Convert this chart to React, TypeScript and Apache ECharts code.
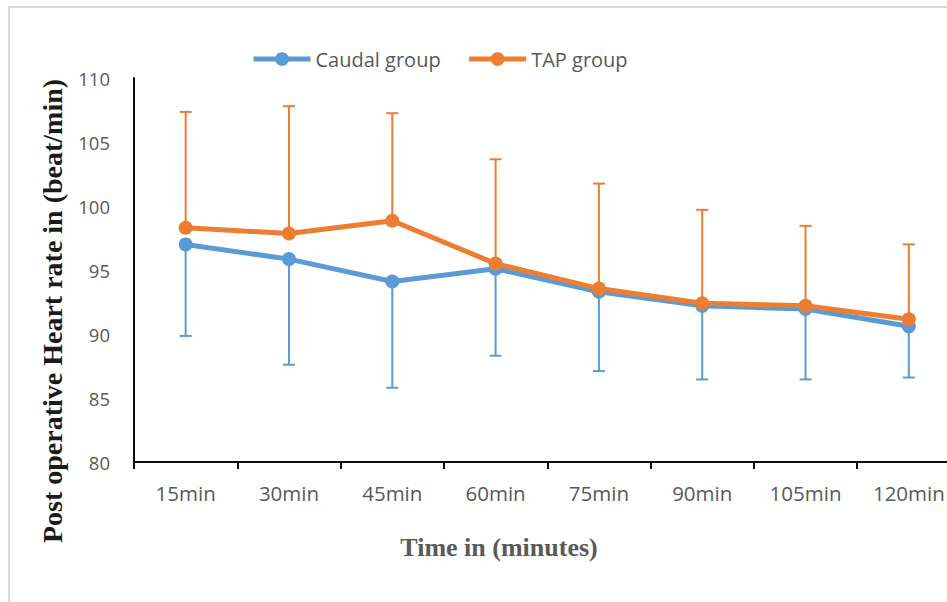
import React, { useEffect, useRef } from "react";
import * as echarts from "echarts";

const categories = ["15min", "30min", "45min", "60min", "75min", "90min", "105min", "120min"];
const caudalMean = [97.0, 95.85, 94.1, 95.1, 93.3, 92.2, 91.95, 90.6];
const caudalLower = [89.85, 87.6, 85.8, 88.3, 87.1, 86.45, 86.45, 86.6];
const tapMean = [98.3, 97.85, 98.85, 95.5, 93.55, 92.4, 92.2, 91.15];
const tapUpper = [107.35, 107.8, 107.25, 103.65, 101.75, 99.7, 98.45, 97.0];
const yTicks = { min: 80, max: 110, interval: 5 };

const BLUE = "#5B9BD5";
const ORANGE = "#ED7D31";

function errorSeries(name: string, means: number[], bounds: number[], color: string, z: number) {
  return {
    type: "custom",
    name,
    z,
    silent: true,
    encode: { x: 0, y: [1, 2] },
    data: means.map((m, i) => [i, m, bounds[i]]),
    renderItem: (params: any, api: any) => {
      const i = api.value(0);
      const p1 = api.coord([i, api.value(1)]);
      const p2 = api.coord([i, api.value(2)]);
      const st = { stroke: color, lineWidth: 2 };
      return {
        type: "group",
        children: [
          { type: "line", shape: { x1: p1[0], y1: p1[1], x2: p2[0], y2: p2[1] }, style: st },
          { type: "line", shape: { x1: p2[0] - 6, y1: p2[1], x2: p2[0] + 6, y2: p2[1] }, style: st },
        ],
      };
    },
  };
}

export default function App() {
  const ref = useRef<HTMLDivElement>(null);
  useEffect(() => {
    if (!ref.current) return;
    const chart = echarts.init(ref.current, null, { renderer: "svg" });
    chart.setOption({
      animation: false,
      backgroundColor: "#ffffff",
      legend: {
        data: ["Caudal group", "TAP group"],
        left: 246,
        top: 44,
        itemWidth: 57,
        itemHeight: 17,
        itemGap: 26,
        lineStyle: { width: 5 },
        textStyle: { fontFamily: "Open Sans", fontSize: 20, color: "#595959" },
      },
      grid: {
        left: 134,
        top: 78,
        width: 826.5,
        height: 384,
        containLabel: false,
        outerBoundsMode: "none",
      },
      xAxis: {
        type: "category",
        data: categories,
        boundaryGap: true,
        axisLine: { show: true, lineStyle: { color: "#0d0d0d", width: 2 } },
        axisTick: { show: true, length: 7, lineStyle: { color: "#0d0d0d", width: 2 } },
        axisLabel: {
          interval: 0,
          margin: 20,
          fontFamily: "Open Sans",
          fontSize: 20.5,
          color: "#595959",
        },
        splitLine: { show: false },
      },
      yAxis: {
        type: "value",
        min: yTicks.min,
        max: yTicks.max,
        interval: yTicks.interval,
        axisLine: { show: true, lineStyle: { color: "#0d0d0d", width: 2 } },
        axisTick: { show: false },
        splitLine: { show: false },
        axisLabel: {
          margin: 24,
          fontFamily: "Open Sans",
          fontSize: 18.5,
          color: "#595959",
        },
      },
      graphic: [
        {
          type: "rect",
          shape: { x: 9, y: 7, width: 1200, height: 800 },
          style: { fill: "none", stroke: "#d9d9d9", lineWidth: 2 },
          silent: true,
          z: -10,
        },
        {
          type: "text",
          x: 52,
          y: 311,
          rotation: Math.PI / 2,
          style: {
            text: "Post operative Heart rate in (beat/min)",
            fontFamily: "Liberation Serif",
            fontWeight: "bold",
            fontSize: 28,
            fill: "#1a1a1a",
            align: "center",
            verticalAlign: "middle",
          },
        },
        {
          type: "text",
          x: 499,
          y: 547,
          style: {
            text: "Time in (minutes)",
            fontFamily: "Liberation Serif",
            fontWeight: "bold",
            fontSize: 26,
            fill: "#595959",
            align: "center",
            verticalAlign: "middle",
          },
        },
      ],
      series: [
        errorSeries("Caudal SD", caudalMean, caudalLower, BLUE, 2),
        {
          type: "line",
          name: "Caudal group",
          data: caudalMean,
          z: 3,
          symbol: "circle",
          symbolSize: 14,
          lineStyle: { color: BLUE, width: 5 },
          itemStyle: { color: BLUE },
        },
        errorSeries("TAP SD", tapMean, tapUpper, ORANGE, 4),
        {
          type: "line",
          name: "TAP group",
          data: tapMean,
          z: 5,
          symbol: "circle",
          symbolSize: 14,
          lineStyle: { color: ORANGE, width: 5 },
          itemStyle: { color: ORANGE },
        },
      ],
    });
    return () => chart.dispose();
  }, []);
  return (
    <div
      ref={ref}
      style={{ position: "absolute", left: 0, top: 0, width: 947, height: 602 }}
    />
  );
}
